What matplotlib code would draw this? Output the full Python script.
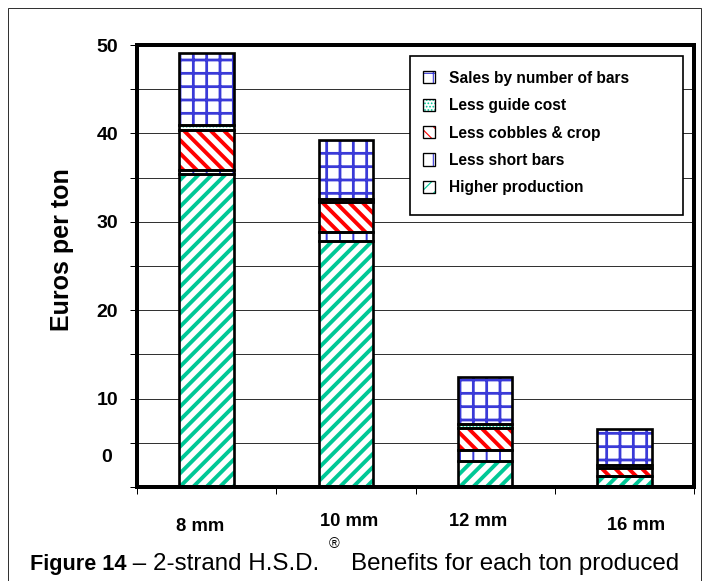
import matplotlib.pyplot as plt
from matplotlib.patches import Patch, Rectangle
from matplotlib.transforms import ScaledTranslation
import numpy as np

plt.rcParams['font.family'] = ['Liberation Sans', 'DejaVu Sans']

# benefit per ton produced, stacked bottom to top (euros/ton)
sizes = ['8 mm', '10 mm', '12 mm', '16 mm']
higher_production = [35.4, 27.8, 2.9, 1.2]
less_short_bars = [0.5, 1.1, 1.3, 0.1]
less_cobbles_crop = [4.5, 3.3, 2.5, 0.9]
less_guide_cost = [0.6, 0.4, 0.4, 0.3]
sales_by_bars = [8.1, 6.6, 5.3, 4.1]

GREEN = '#00c896'
BLUE = '#3a3ad8'
RED = '#ff0000'

# label, values, hatch, hatch colour, hatch width
series = [
    ('Higher production', higher_production, '//', GREEN, 3.5),
    ('Less short bars', less_short_bars, '|', BLUE, 1.8),
    ('Less cobbles & crop', less_cobbles_crop, '\\\\', RED, 3.5),
    ('Less guide cost', less_guide_cost, '....', GREEN, 1.0),
    ('Sales by number of bars', sales_by_bars, '+', BLUE, 2.5),
]

DPI = 80
W, H = 706, 581
fig = plt.figure(figsize=(W / DPI, H / DPI), dpi=DPI)
ax = fig.add_axes([137 / W, 94 / H, 557 / W, 442 / H])

x = np.arange(len(sizes)) + 0.5
width = 0.39
bottom = np.zeros(len(sizes))
handles, labels = [], []
for label, values, hatch, color, hlw in series:
    with plt.rc_context({'hatch.linewidth': hlw}):
        bars = ax.bar(x, values, width, bottom=bottom, color='white',
                      edgecolor=color, hatch=hatch, linewidth=0, zorder=2)
        key = Patch(facecolor='white', edgecolor=color, hatch=hatch, linewidth=0)
    for p in list(bars) + [key]:
        if hasattr(p, 'set_hatch_linewidth'):
            p.set_hatch_linewidth(hlw)
    ax.bar(x, values, width, bottom=bottom, fill=False, edgecolor='black',
           linewidth=2.4, zorder=3)
    bottom += np.array(values)
    handles.append((key, Patch(fill=False, edgecolor='black', linewidth=1.2)))
    labels.append(label)

ax.set_xlim(0, 4)
ax.set_ylim(0, 50)

# y axis: gridlines every 5, labels every 10
yt = np.arange(0, 51, 5)
ax.set_yticks(yt, [str(v) if v % 10 == 0 and v > 0 else '' for v in yt])
ax.set_yticks([3.6], ['0'], minor=True)
ax.tick_params(axis='y', which='major', direction='out', length=6.3, width=0.9,
               pad=10.5, labelsize=17.5)
ax.tick_params(axis='y', which='minor', length=0, pad=22.5, labelsize=17.5)
for lab in ax.get_yticklabels() + ax.get_yticklabels(minor=True):
    lab.set_fontweight('bold')
ax.yaxis.grid(True, which='major', color='#333333', linewidth=0.9)
ax.set_axisbelow(True)

# x axis: ticks between categories, names under the bars
ax.set_xticks(np.arange(0, 5), [])
ax.set_xticks(x, sizes, minor=True)
ax.tick_params(axis='x', which='major', direction='out', length=6.3, width=0.9)
ax.tick_params(axis='x', which='minor', length=0, pad=25, labelsize=16.5)
shifts = [(-7, 3), (3, -2), (-7, -2), (12, 2)]
for lab, (dx, dy) in zip(ax.get_xticklabels(minor=True), shifts):
    lab.set_fontweight('bold')
    lab.set_transform(lab.get_transform() +
                      ScaledTranslation(dx / DPI, -dy / DPI, fig.dpi_scale_trans))

for sp in ax.spines.values():
    sp.set_linewidth(3.6)

fig.text(62 / W, 1 - 250 / H, 'Euros per ton', rotation=90, ha='center',
         va='center', fontsize=22.5, fontweight='bold')

# legend with its own white box
ax.add_patch(Rectangle((0.490, 0.615), 0.490, 0.360, transform=ax.transAxes,
                       facecolor='white', edgecolor='black', linewidth=1.5,
                       zorder=5))
leg = ax.legend(handles[::-1], labels[::-1], loc='upper left',
                bbox_to_anchor=(0.5135, 0.942), frameon=False, borderpad=0,
                borderaxespad=0, prop={'weight': 'bold', 'size': 14},
                handlelength=0.77, handleheight=0.84, handletextpad=0.9,
                labelspacing=0.8)
leg.set_zorder(6)

# outer frame
fig.add_artist(Rectangle((8 / W, -0.05), 693 / W, 1.05 - 8 / H,
                         transform=fig.transFigure, fill=False,
                         edgecolor='#333333', linewidth=0.9))

# caption, built piece by piece
renderer = fig.canvas.get_renderer()
cap_y = 11 / H


def right_edge(t):
    return t.get_window_extent(renderer).x1 / W


t1 = fig.text(30 / W, cap_y, 'Figure 14', fontsize=19.5, fontweight='bold',
              va='baseline')
t2 = fig.text(right_edge(t1), cap_y, ' \u2013 2-strand H.S.D.', fontsize=21.7,
              va='baseline')
t3 = fig.text(right_edge(t2) + 9 / W, cap_y + 22 / H, '\u00ae', fontsize=13,
              va='baseline')
fig.text(right_edge(t3) + 12 / W, cap_y, 'Benefits for each ton produced',
         fontsize=21.7, va='baseline')

fig.savefig('out.png', dpi=DPI)
